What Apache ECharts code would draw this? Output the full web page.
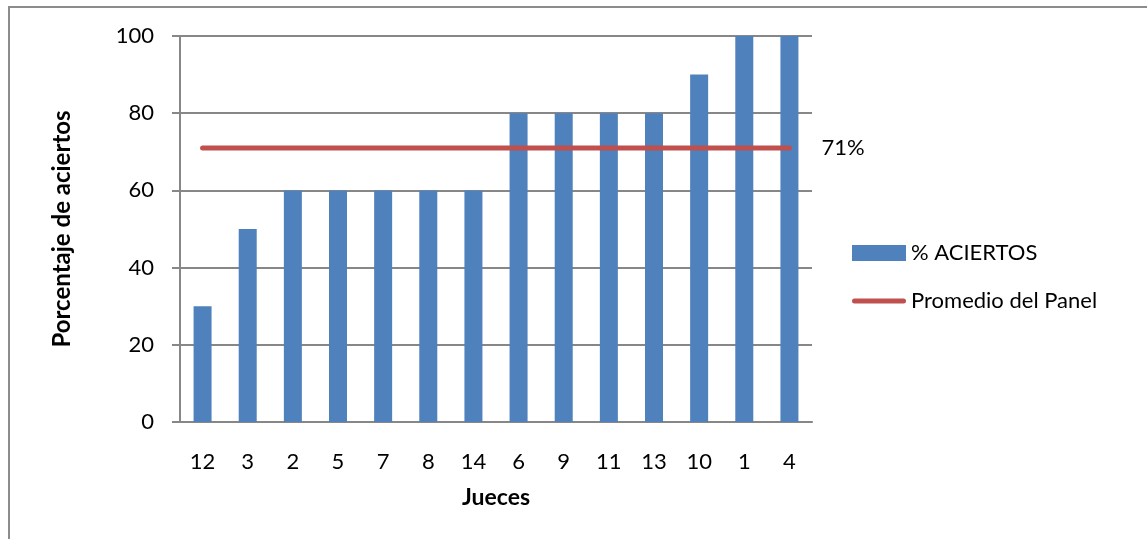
<!DOCTYPE html>
<html>
<head>
<meta charset="utf-8">
<script src="https://cdn.jsdelivr.net/npm/echarts@6/dist/echarts.min.js"></script>
<style>
  html, body { margin: 0; padding: 0; background: #fff; }
  #chartDom { width: 1147px; height: 539px; }
</style>
</head>
<body>
<div id="chartDom"></div>
<script>
// jueces ordenados por porcentaje
const jueces = ["12", "3", "2", "5", "7", "8", "14", "6", "9", "11", "13", "10", "1", "4"];
const aciertos = [30, 50, 60, 60, 60, 60, 60, 80, 80, 80, 80, 90, 100, 100];
// promedio del panel (71%)
const promedio = [71, 71, 71, 71, 71, 71, 71, 71, 71, 71, 71, 71, 71, 71];
const yTicks = [0, 20, 40, 60, 80, 100];

const fuente = "Lato, 'Open Sans', sans-serif";
const gris = "#878787";

let chart = echarts.init(document.getElementById("chartDom"));
chart.setOption({
  animation: false,
  textStyle: { fontFamily: fuente },
  graphic: [
    {
      type: "polyline",
      shape: { points: [[9, 539], [9, 7], [1147, 7]] },
      style: { stroke: "#8c8c8c", lineWidth: 2, fill: null },
    },
  ],
  grid: { left: 180, right: 335, top: 36, bottom: 117 },
  legend: {
    orient: "vertical",
    left: 852,
    top: 242,
    padding: 0,
    itemWidth: 54,
    itemHeight: 18,
    itemGap: 26,
    textStyle: { fontSize: 22, color: "#000", fontFamily: fuente },
    data: [
      { name: "% ACIERTOS", icon: "path://M0,0H54V16H0Z" },
      { name: "Promedio del Panel", icon: "path://M2.5,0H51.5A2.5,2.5,0,0,1,51.5,5H2.5A2.5,2.5,0,0,1,2.5,0Z" },
    ],
  },
  xAxis: {
    type: "category",
    data: jueces,
    name: "Jueces",
    nameLocation: "middle",
    nameGap: 64,
    nameTextStyle: { fontSize: 23, fontWeight: "bold", color: "#000" },
    axisLine: { lineStyle: { color: gris, width: 2 } },
    axisTick: { show: false },
    axisLabel: { fontSize: 22, color: "#000", margin: 29 },
  },
  yAxis: {
    type: "value",
    min: yTicks[0],
    max: yTicks[yTicks.length - 1],
    interval: 20,
    name: "Porcentaje de aciertos",
    nameLocation: "middle",
    nameGap: 106,
    nameTextStyle: { fontSize: 24, fontWeight: "bold", color: "#000" },
    axisLine: { show: true, lineStyle: { color: gris, width: 2 } },
    axisTick: { show: true, length: 8, lineStyle: { color: gris, width: 2 } },
    axisLabel: { fontSize: 22, color: "#000", margin: 26 },
    splitLine: { lineStyle: { color: gris, width: 2 } },
  },
  series: [
    {
      name: "% ACIERTOS",
      type: "bar",
      barWidth: 18,
      itemStyle: { color: "#4F81BD" },
      data: aciertos,
    },
    {
      name: "Promedio del Panel",
      type: "line",
      symbol: "none",
      lineStyle: { color: "#C0504D", width: 5, cap: "round" },
      itemStyle: { color: "#C0504D" },
      endLabel: {
        show: true,
        formatter: "71%",
        distance: 32,
        fontSize: 22,
        color: "#000",
        fontFamily: fuente,
      },
      data: promedio,
    },
  ],
});
</script>
</body>
</html>
